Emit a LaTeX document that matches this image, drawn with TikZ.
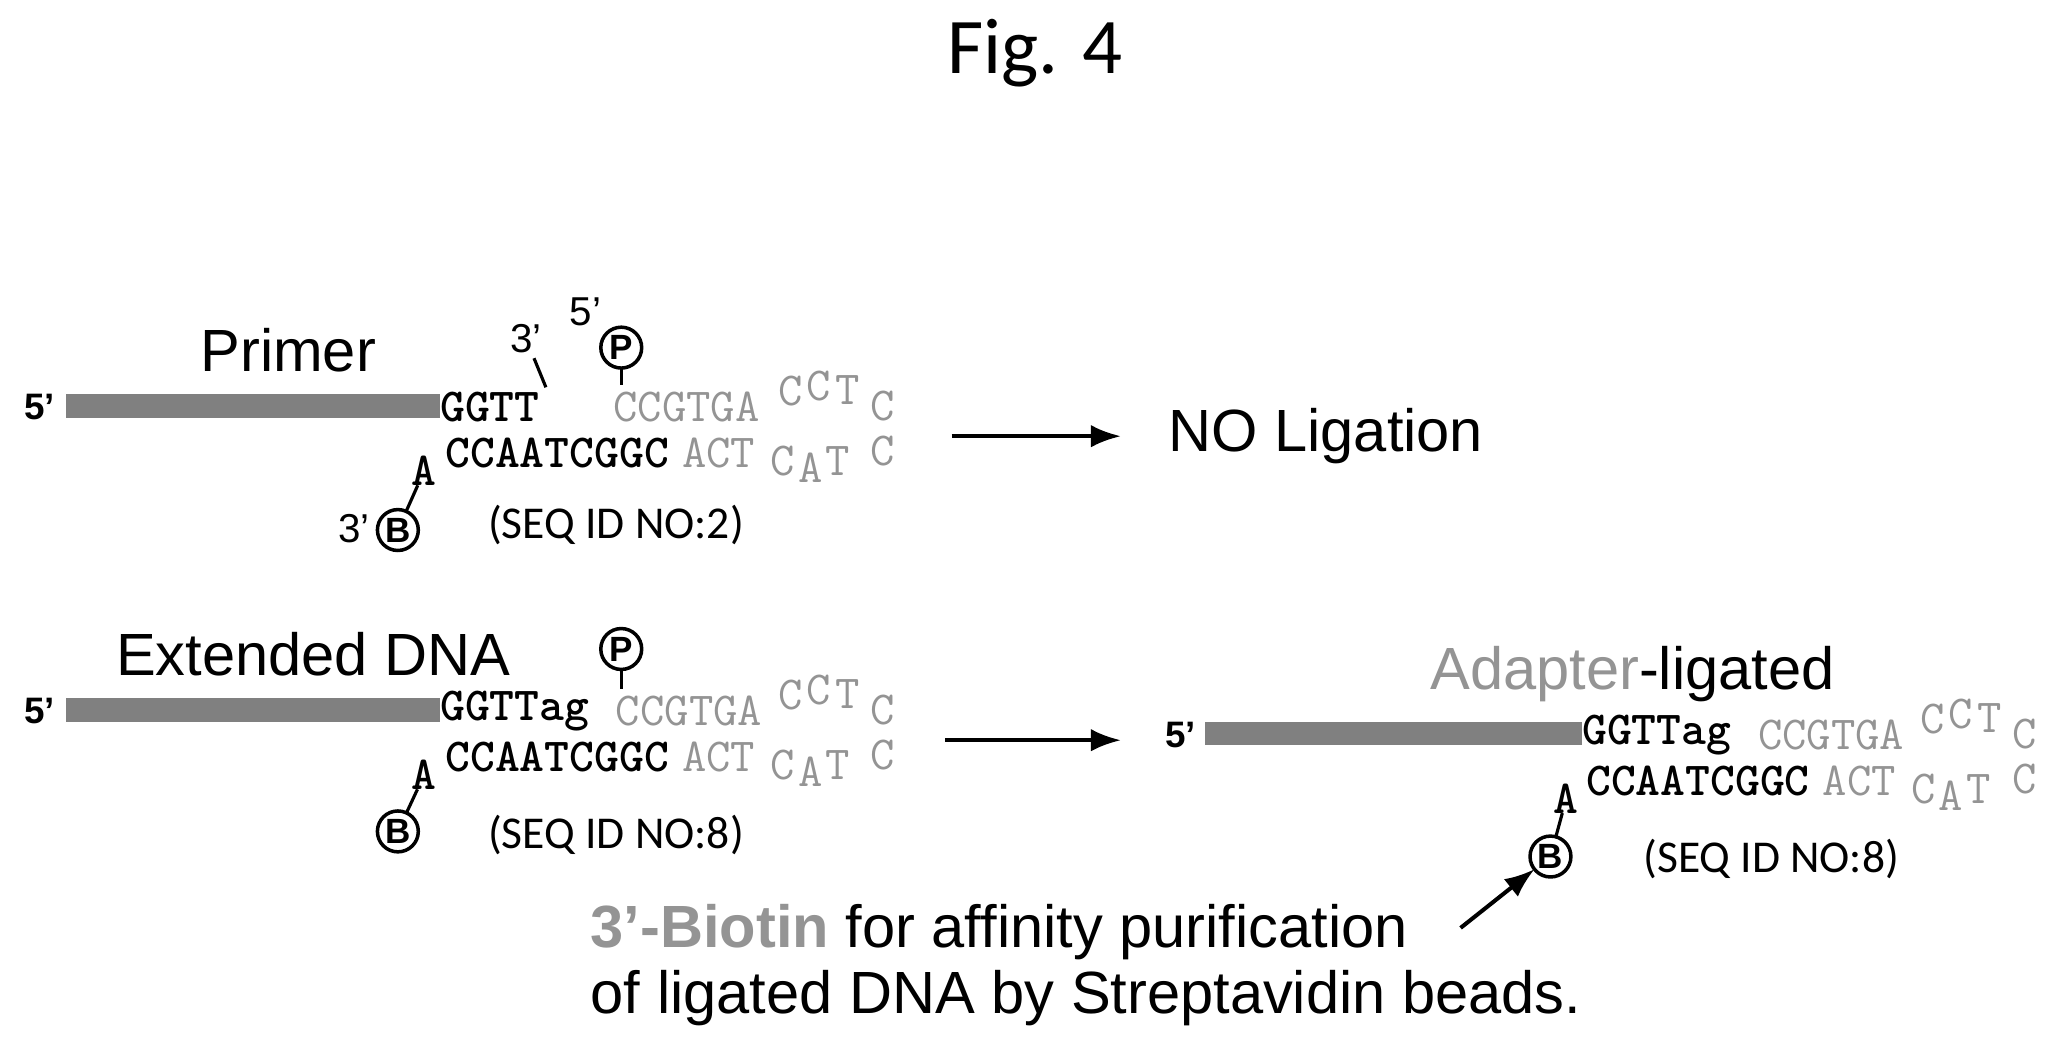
\documentclass[tikz,border=0pt]{standalone}
\usepackage{fontspec}
\usetikzlibrary{arrows.meta}
\setmainfont{Liberation Sans}
\newfontfamily\calfnt{Carlito}
\definecolor{lg}{gray}{0.58}
\definecolor{bar}{gray}{0.5}
\begin{document}
\begin{tikzpicture}[x=0.0265cm,y=-0.0265cm,
  every node/.style={inner sep=0pt,outer sep=0pt},
  lab/.style={font=\fontsize{34}{36}\selectfont},
  five/.style={font=\bfseries\fontsize{21}{22}\selectfont},
  prime/.style={font=\fontsize{23}{24}\selectfont},
  seq/.style={font=\ttfamily\bfseries\fontsize{27}{27}\selectfont},
  gseq/.style={font=\ttfamily\fontsize{27}{27}\selectfont,text=lg},
  sid/.style={font=\calfnt\fontsize{26}{28}\selectfont},
  circ/.style={circle,draw,line width=2pt,minimum size=0.82cm,font=\bfseries\fontsize{20}{20}\selectfont},
  bar/.style={fill=bar},
  arr/.style={-{Latex[length=0.6cm,width=0.45cm]},line width=2.3pt},
  lnk/.style={line width=1.8pt}]
\useasboundingbox (0,0) rectangle (1560,792);
\node[font=\calfnt\fontsize{45}{48}\selectfont] (fig) at (783,40) {Fig. 4};
% ---- row 1
\node[lab] (primer) at (218,265) {Primer};
\node[five] (f1) at (30,308) {5’};
\fill[bar] (50,298) rectangle (333,316);
\node[seq,anchor=west] (s1) at (333,308) {GGTT};
\node[prime] (p31) at (398,256) {3’};
\draw[lnk] (404,271) -- (413,293);
\node[prime] (p51) at (443,236) {5’};
\node[circ] (P1) at (470,263) {P};
\draw[lnk] (P1.south) -- (470,291);
\node[gseq,anchor=west] (g1) at (464,308) {CCGTGA};
\node[gseq] at (598,296) {C};
\node[gseq] at (619,292) {C};
\node[gseq] at (641,295) {T};
\node[gseq] at (668,307) {C};
\node[seq,anchor=west] (b1) at (337,343) {CCAATCGGC};
\node[gseq,anchor=west] (gb1) at (516,343) {ACT};
\node[gseq] at (592,349) {C};
\node[gseq] at (613,354) {A};
\node[gseq] at (634,349) {T};
\node[gseq] at (668,341) {C};
\node[seq] (A1) at (321,356) {A};
\node[circ] (B1) at (301,401) {B};
\draw[lnk] (B1) -- (A1);
\node[prime] (p32) at (268,400) {3’};
\node[sid] (sid1) at (466,397) {(SEQ ID NO:2)};
\coordinate (a1s) at (720,330);
\node[lab,anchor=west] (nolig) at (884,330) {NO Ligation};
\draw[arr] (a1s) -- (848,330);
% ---- row 2
\node[lab] (ext) at (237,495) {Extended DNA};
\node[five] (f2) at (30,538) {5’};
\fill[bar] (50,528) rectangle (333,546);
\node[seq,anchor=west] (s2) at (333,538) {GGTTag};
\node[circ] (P2) at (470,491) {P};
\draw[lnk] (P2.south) -- (470,521);
\node[gseq,anchor=west] (g2) at (466,538) {CCGTGA};
\node[gseq] at (598,526) {C};
\node[gseq] at (619,522) {C};
\node[gseq] at (641,525) {T};
\node[gseq] at (668,537) {C};
\node[seq,anchor=west] (b2) at (337,573) {CCAATCGGC};
\node[gseq,anchor=west] (gb2) at (516,573) {ACT};
\node[gseq] at (592,579) {C};
\node[gseq] at (613,584) {A};
\node[gseq] at (634,579) {T};
\node[gseq] at (668,571) {C};
\node[seq] (A2) at (321,586) {A};
\node[circ] (B2) at (301,629) {B};
\draw[lnk] (B2) -- (A2);
\node[sid] (sid2) at (466,632) {(SEQ ID NO:8)};
\coordinate (a2s) at (715,560);
\coordinate (a2e) at (848,560);
\draw[arr] (a2s) -- (a2e);
% ---- right
\node[lab] (adl) at (1235,510) {\textcolor{lg}{Adapter}-ligated};
\node[five] (f3) at (893,556) {5’};
\fill[bar] (912,546) rectangle (1197,564);
\node[seq,anchor=west] (s3) at (1197,556) {GGTTag};
\node[gseq,anchor=west] (g3) at (1330,556) {CCGTGA};
\node[gseq] at (1462,544) {C};
\node[gseq] at (1483,540) {C};
\node[gseq] at (1505,543) {T};
\node[gseq] at (1532,555) {C};
\node[seq,anchor=west] (b3) at (1200,591) {CCAATCGGC};
\node[gseq,anchor=west] (gb3) at (1379,591) {ACT};
\node[gseq] at (1455,597) {C};
\node[gseq] at (1476,602) {A};
\node[gseq] at (1497,597) {T};
\node[gseq] at (1532,589) {C};
\node[seq] (A3) at (1185,604) {A};
\node[circ] (B3) at (1173,648) {B};
\draw[lnk] (B3) -- (A3);
\node[sid] (sid3) at (1340,650) {(SEQ ID NO:8)};
\node[lab,anchor=base west,font=\fontsize{34}{36}\selectfont] (t1) at (447,717) {\textcolor{lg}{\bfseries 3’-Biotin} for affinity purification};
\node[lab,anchor=base west,font=\fontsize{34}{36}\selectfont] (t2) at (447,767) {of ligated DNA by Streptavidin beads.};
\coordinate (a3s) at (1105,702);
\draw[arr] (a3s) -- (B3);
\end{tikzpicture}
\end{document}
